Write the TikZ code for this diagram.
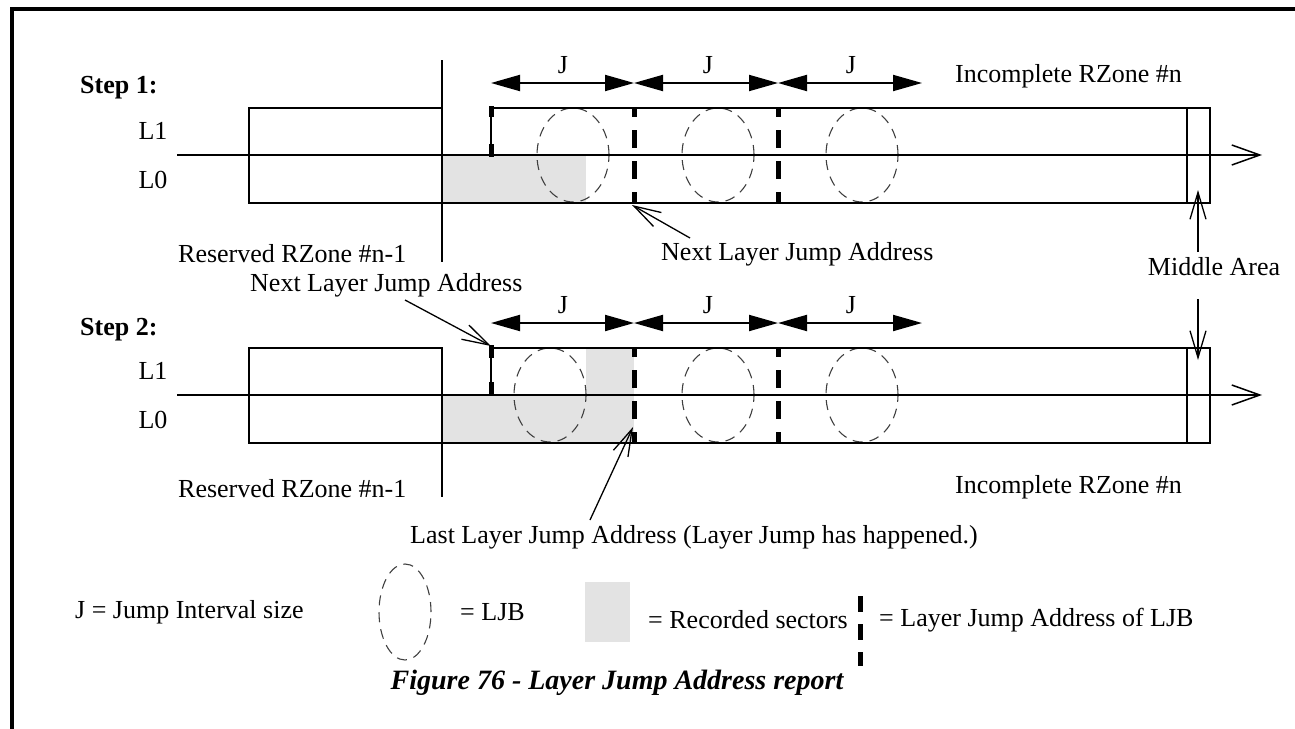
\documentclass[tikz,border=0pt]{standalone}
\usepackage{fontspec}
\setmainfont{Liberation Serif}
\usetikzlibrary{arrows.meta}
\begin{document}
\begin{tikzpicture}[x=1pt,y=-1pt,
  txt/.style={font=\fontsize{26}{30}\selectfont, inner sep=0pt, anchor=west},
  stp/.style={font=\fontsize{26}{30}\selectfont\bfseries, inner sep=0pt, anchor=west},
  ln/.style={line width=2pt},
  jarrow/.style={line width=2pt, {Triangle[length=29pt,width=16pt]}-{Triangle[length=29pt,width=16pt]}},
  ptr/.style={line width=1.3pt, -{Straight Barb[length=27pt,width=16pt,line width=1.3pt]}},
  axis/.style={line width=2pt, -{Straight Barb[length=28pt,width=20pt,line width=1.5pt]}},
  ljb/.style={draw=black!75, dash pattern=on 10pt off 7pt, line width=1.1pt},
  rec/.style={fill=black!11, draw=none},
  ljaddr/.style={line width=5pt, dash pattern=on 18pt off 13pt, dash phase=9pt},
  mk/.style={line width=5pt},
]
\useasboundingbox (0,0) rectangle (1295,728);
% frame
\draw[line width=4pt] (10,9) -- (1300,9);
\draw[line width=4pt] (12,7) -- (12,735);

% ================= STEP 1 =================
\node[stp] (s1) at (80,88) {Step 1:};
\node[txt,anchor=center] (s1l1) at (153,131) {L1};
\node[txt,anchor=center] (s1l0) at (153,180) {L0};
\fill[rec] (442,155) rectangle (586,203);
\foreach \cx in {573,718,862}
  \draw[ljb] (\cx,155) ellipse [x radius=36pt, y radius=47pt];
\draw[ln] (442,108) -- (249,108) -- (249,203) -- (1210,203) -- (1210,108) -- (491,108);
\draw[ln] (1187,108) -- (1187,203);
\draw[ln] (442,60) -- (442,262);
\coordinate (a1s) at (177,155);
\coordinate (a1e) at (1262,155);
\draw[axis] (a1s) -- (a1e);
% start marker
\draw[line width=1.5pt] (491,108) -- (491,155);
\draw[mk] (491,106) -- (491,117);
\draw[mk] (491,144) -- (491,157);
\draw[ljaddr] (634,108) -- (634,203);
\draw[ljaddr] (778,108) -- (778,203);
% J arrows
\coordinate (j1a) at (491,83); \coordinate (j1b) at (634,83);
\coordinate (j1c) at (778,83); \coordinate (j1d) at (922,83);
\draw[jarrow] (j1a) -- (j1b);
\draw[jarrow] (j1b) -- (j1c);
\draw[jarrow] (j1c) -- (j1d);
\node[txt,anchor=center] (j11) at (563,65) {J};
\node[txt,anchor=center] (j12) at (708,65) {J};
\node[txt,anchor=center] (j13) at (851,65) {J};
\node[txt] (inc1) at (955,76) {Incomplete RZone \#n};
\node[txt] (res1) at (178,254) {Reserved RZone \#n-1};
\node[txt] (nl1) at (661,254) {Next Layer Jump Address};
\coordinate (nl1s) at (690,238);
\coordinate (nl1t) at (632,205);
\draw[ptr] (nl1s) -- (nl1t);

% Middle area
\node[txt,anchor=center] (ma) at (1214,267) {Middle Area};
\coordinate (mau0) at (1198,252); \coordinate (mau) at (1198,190);
\coordinate (mad0) at (1198,299); \coordinate (mad) at (1198,360);
\draw[ptr] (mau0) -- (mau);
\draw[ptr] (mad0) -- (mad);

% ================= STEP 2 =================
\node[stp] (s2) at (80,330) {Step 2:};
\node[txt,anchor=center] (s2l1) at (153,371) {L1};
\node[txt,anchor=center] (s2l0) at (153,420) {L0};
\fill[rec] (442,395) rectangle (634,443);
\fill[rec] (586,348) rectangle (634,395);
\foreach \cx in {550,718,862}
  \draw[ljb] (\cx,395) ellipse [x radius=36pt, y radius=47pt];
\draw[ln] (249,348) rectangle (442,443);
\draw[ln] (442,443) -- (442,497);
\draw[ln] (442,443) -- (1210,443) -- (1210,348) -- (491,348);
\draw[ln] (1187,348) -- (1187,443);
\coordinate (a2s) at (177,395);
\coordinate (a2e) at (1262,395);
\draw[axis] (a2s) -- (a2e);
\draw[line width=1.5pt] (491,348) -- (491,395);
\draw[mk] (491,345) -- (491,358);
\draw[mk] (491,382) -- (491,395);
\draw[ljaddr] (634,348) -- (634,443);
\draw[ljaddr] (778,348) -- (778,443);
\coordinate (j2a) at (491,323); \coordinate (j2b) at (634,323);
\coordinate (j2c) at (778,323); \coordinate (j2d) at (922,323);
\draw[jarrow] (j2a) -- (j2b);
\draw[jarrow] (j2b) -- (j2c);
\draw[jarrow] (j2c) -- (j2d);
\node[txt,anchor=center] (j21) at (563,305) {J};
\node[txt,anchor=center] (j22) at (708,305) {J};
\node[txt,anchor=center] (j23) at (851,305) {J};
\node[txt] (nl2) at (250,285) {Next Layer Jump Address};
\coordinate (nl2s) at (405,300);
\coordinate (nl2t) at (491,346);
\draw[ptr] (nl2s) -- (nl2t);
\node[txt] (res2) at (178,489) {Reserved RZone \#n-1};
\node[txt] (inc2) at (955,487) {Incomplete RZone \#n};
\node[txt] (last) at (410,537) {Last Layer Jump Address (Layer Jump has happened.)};
\coordinate (lls) at (590,520);
\coordinate (llt) at (633,427);
\draw[ptr] (lls) -- (llt);

% ================= LEGEND =================
\node[txt] (lj) at (75,612) {J = Jump Interval size};
\draw[ljb] (405,612) ellipse [x radius=26pt, y radius=48pt];
\node[txt] (lljb) at (460,612) {= LJB};
\fill[rec] (585,582) rectangle (630,642);
\node[txt] (lrec) at (648,620) {= Recorded sectors};
\draw[line width=5pt, dash pattern=on 16pt off 12pt] (860,596) -- (860,666);
\node[txt] (llja) at (879,620) {= Layer Jump Address of LJB};
\node[font=\fontsize{28}{32}\selectfont\bfseries\itshape, inner sep=0pt] (cap) at (617,683) {Figure 76 - Layer Jump Address report};
\end{tikzpicture}
\end{document}
